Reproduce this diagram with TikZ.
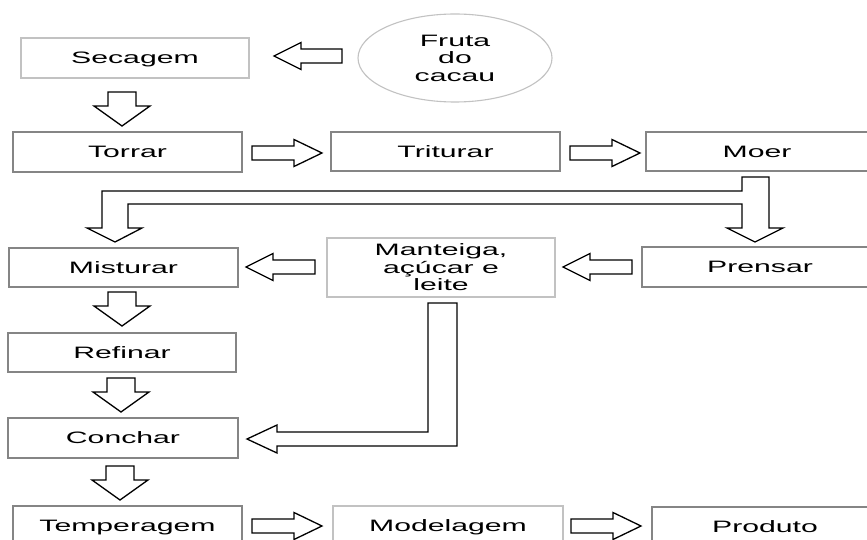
\documentclass[tikz,border=0pt]{standalone}
\usepackage{fontspec}
\usetikzlibrary{shapes.geometric}
\setmainfont[FakeStretch=1.83]{Liberation Sans}
\definecolor{boxdark}{HTML}{858585}
\definecolor{boxlight}{HTML}{C2C2C2}
\tikzset{
  box/.style={draw=boxdark, line width=1.1pt, rectangle, inner sep=0pt,
    text height=11.8pt, text depth=0pt, font=\fontsize{16.5}{17.5}\selectfont},
  lbox/.style={box, draw=boxlight},
  mbox/.style={draw=boxlight, line width=1.1pt, rectangle, inner sep=0pt, align=center,
    font=\fontsize{16.5}{17.5}\selectfont},
  blk/.style={draw=black, line width=1.3pt, fill=white, line join=miter},
}
\newcommand\rarrow[3]{\draw[blk] (#1,#3-7) -- (#2-28,#3-7) -- (#2-28,#3-13.5) -- (#2,#3) -- (#2-28,#3+13.5) -- (#2-28,#3+7) -- (#1,#3+7) -- cycle;}
\newcommand\larrow[3]{\draw[blk] (#2,#3-7) -- (#1+27,#3-7) -- (#1+27,#3-13.5) -- (#1,#3) -- (#1+27,#3+13.5) -- (#1+27,#3+7) -- (#2,#3+7) -- cycle;}
\newcommand\darrow[3]{\draw[blk] (#1-14,#2) -- (#1+14,#2) -- (#1+14,#3-20) -- (#1+28,#3-20) -- (#1,#3) -- (#1-28,#3-20) -- (#1-14,#3-20) -- cycle;}
\begin{document}
\begin{tikzpicture}[x=1pt,y=-1pt]
\useasboundingbox (0,0) rectangle (867,540);
\clip (0,0) rectangle (867,540);
\fill[white] (0,0) rectangle (867,540);

% nodes
\node[lbox, minimum width=228pt, minimum height=40pt] (sec) at (135,58) {Secagem};
\node[draw=boxlight, line width=1.1pt, ellipse, minimum width=194pt, minimum height=88pt, inner sep=0pt, align=center,
  font=\fontsize{16.5}{17.5}\selectfont] (fru) at (455,58) {Fruta\\do\\cacau};
\node[box, minimum width=229pt, minimum height=40pt] (tor) at (127.5,152) {Torrar};
\node[box, minimum width=229pt, minimum height=39pt] (tri) at (445.5,151.5) {Triturar};
\node[box, minimum width=222pt, minimum height=39pt] (moe) at (757,151.5) {Moer};
\node[box, minimum width=229pt, minimum height=39pt] (mis) at (123.5,267.5) {Misturar};
\node[mbox, minimum width=228pt, minimum height=59pt] (man) at (441,267.5) {Manteiga,\\açúcar e\\leite};
\node[box, minimum width=236pt, minimum height=40pt] (pre) at (760,267) {Prensar};
\node[box, minimum width=228pt, minimum height=39pt] (ref) at (122,352.5) {Refinar};
\node[box, minimum width=230pt, minimum height=40pt] (con) at (123,438) {Conchar};
\node[box, minimum width=229pt, minimum height=40pt] (tem) at (127.5,526) {Temperagem};
\node[lbox, minimum width=230pt, minimum height=40pt] (mod) at (448,526) {Modelagem};
\node[box, minimum width=226pt, minimum height=40pt] (pro) at (765,527) {Produto};

% simple block arrows
\larrow{274}{342}{56}
\darrow{122}{92}{126}
\rarrow{252}{322}{153}
\rarrow{570}{640}{153}
\larrow{246}{315}{267}
\larrow{563}{632}{267}
\darrow{122}{292}{326}
\darrow{121}{378}{412}
\darrow{120}{466}{500}
\rarrow{252}{322}{526}
\rarrow{571}{641}{526}

% split arrow from Moer to Misturar and Prensar
\draw[blk] (742,177) -- (769,177) -- (769,228) -- (783,228) -- (755,242) -- (727,228) -- (742,228)
  -- (742,204) -- (128,204) -- (128,228) -- (142,228) -- (115,242) -- (87,228) -- (102,228)
  -- (102,191) -- (742,191) -- cycle;

% L arrow from Manteiga to Conchar
\draw[blk] (428,303) -- (457,303) -- (457,446) -- (277,446) -- (277,453) -- (247,439) -- (277,425)
  -- (277,432) -- (428,432) -- cycle;
\end{tikzpicture}
\end{document}
